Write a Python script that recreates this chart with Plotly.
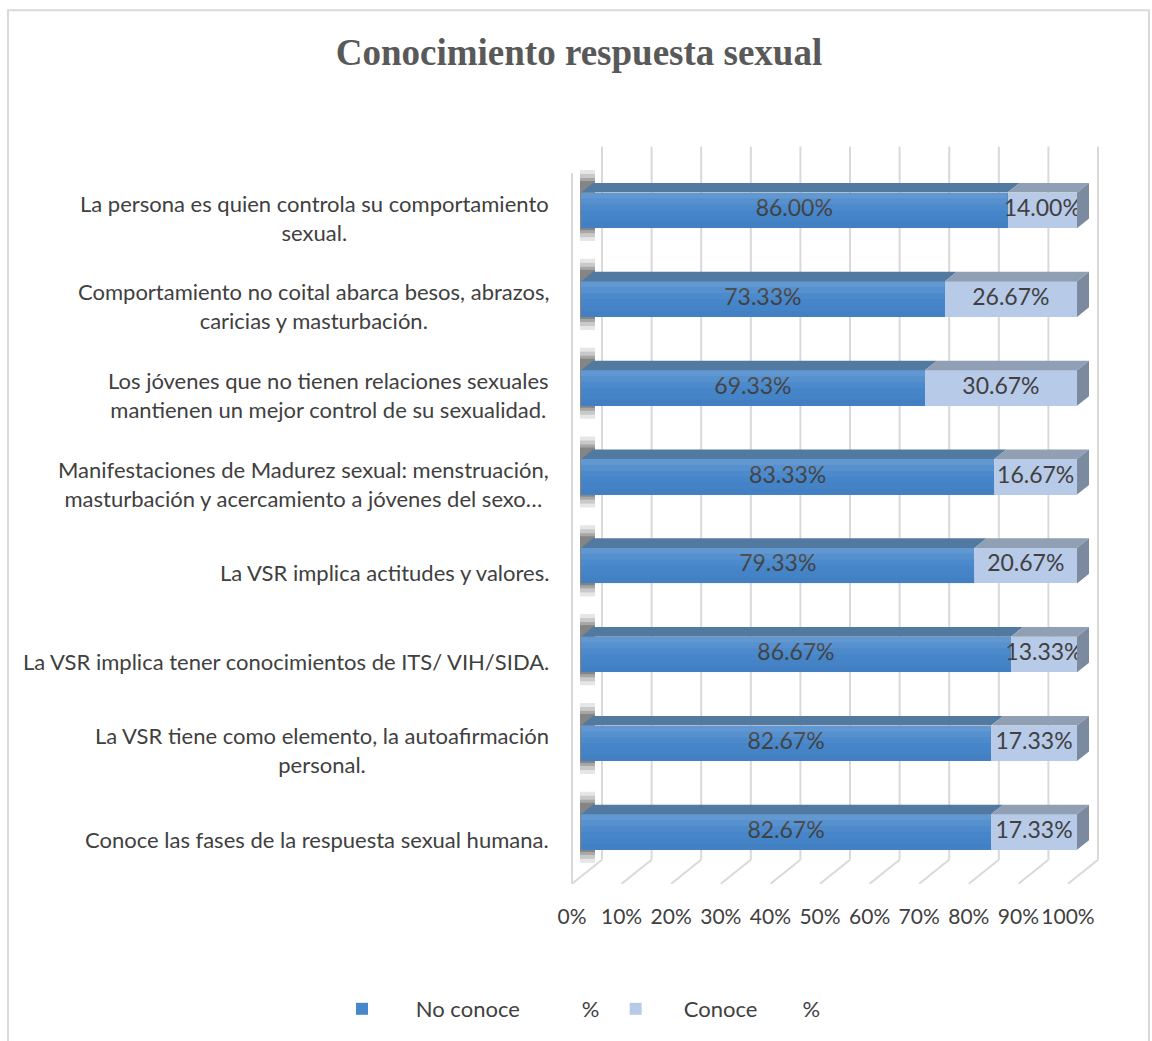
import plotly.graph_objects as go

# ---- data -------------------------------------------------------------
categories = [
    "La persona es quien controla su comportamiento<br>sexual.",
    "Comportamiento no coital abarca besos, abrazos,<br>caricias y masturbación.",
    "Los jóvenes que no tienen relaciones sexuales<br>mantienen un mejor control de su sexualidad.",
    "Manifestaciones de Madurez sexual: menstruación,<br>masturbación y acercamiento a jóvenes del sexo…",
    "La VSR implica actitudes y valores.",
    "La VSR implica tener conocimientos de ITS/ VIH/SIDA.",
    "La VSR tiene como elemento, la autoafirmación<br>personal.",
    "Conoce las fases de la respuesta sexual humana.",
]
no_conoce = [86.00, 73.33, 69.33, 83.33, 79.33, 86.67, 82.67, 82.67]
conoce = [14.00, 26.67, 30.67, 16.67, 20.67, 13.33, 17.33, 17.33]
tick_values = [0, 10, 20, 30, 40, 50, 60, 70, 80, 90, 100]
tick_labels = ["0%", "10%", "20%", "30%", "40%", "50%", "60%", "70%", "80%", "90%", "100%"]
series_names = ["No conoce", "Conoce"]

# ---- geometry of the pseudo-3D box ------------------------------------
W, H = 1152, 1041
PLOT_L, PLOT_R, PLOT_T, PLOT_B = 560, 1110, 130, 900
X_RANGE = [-4.234, 106.65]          # value axis (bar front plane)
Y_RANGE = [-0.7534, 7.905]          # category index axis
PX_X = (PLOT_R - PLOT_L) / (X_RANGE[1] - X_RANGE[0])
PX_Y = (PLOT_B - PLOT_T) / (Y_RANGE[1] - Y_RANGE[0])
DEPTH_PX = (30, -24)                # screen shift from front (d=0) to back (d=1)
BAR_D0, BAR_D1 = 0.3, 0.7           # depth span occupied by the bars
BAR_W = 0.40


def shift(d):
    """Offset in axis units of depth d relative to the bars' front plane."""
    return ((d - BAR_D0) * DEPTH_PX[0] / PX_X, -(d - BAR_D0) * DEPTH_PX[1] / PX_Y)


n = len(categories)
ypos = [n - 1 - i for i in range(n)]  # first category at the top

TEXT = "#404040"
FONT = "Lato"
GRID = "#d9d9d9"
BLUE_FRONT, BLUE_TOP = "#4787cb", "#52799f"
LIGHT_FRONT, LIGHT_TOP, LIGHT_SIDE = "#b7cae8", "#909fb3", "#7b8a9e"

fig = go.Figure()
fig.add_trace(go.Bar(
    y=ypos, x=no_conoce, orientation="h", name=series_names[0], width=BAR_W,
    marker=dict(color=BLUE_FRONT, line=dict(width=0)), textposition="none",
    hoverinfo="x+name",
))
fig.add_trace(go.Bar(
    y=ypos, x=conoce, base=no_conoce, orientation="h", name=series_names[1], width=BAR_W,
    marker=dict(color=LIGHT_FRONT, line=dict(width=0)), textposition="none",
    hoverinfo="x+name",
))
# value labels centred on each segment's front face
fig.add_trace(go.Scatter(
    x=[a / 2 for a in no_conoce], y=ypos, mode="text",
    text=[f"{v:.2f}%" for v in no_conoce], textposition="middle center",
    textfont=dict(family=FONT, size=23, color=TEXT),
    showlegend=False, hoverinfo="skip", cliponaxis=False,
))
fig.add_trace(go.Scatter(
    x=[a + b / 2 for a, b in zip(no_conoce, conoce)], y=ypos, mode="text",
    text=[f"{v:.2f}%" for v in conoce], textposition="middle center",
    textfont=dict(family=FONT, size=23, color=TEXT),
    showlegend=False, hoverinfo="skip", cliponaxis=False,
))

shapes = []
floor_y, top_y = -0.5, 7.5
fx, fy = shift(0.0)
bx, by = shift(1.0)

# back wall gridlines and floor diagonals
for v in tick_values:
    shapes.append(dict(type="line", xref="x", yref="y", layer="below",
                       x0=v + bx, y0=floor_y + by, x1=v + bx, y1=top_y + by + 0.03,
                       line=dict(color=GRID, width=2)))
    shapes.append(dict(type="line", xref="x", yref="y", layer="below",
                       x0=v + bx, y0=floor_y + by, x1=v + fx, y1=floor_y + fy,
                       line=dict(color=GRID, width=2)))
# left wall front edge
shapes.append(dict(type="line", xref="x", yref="y", layer="below",
                   x0=fx, y0=floor_y + fy, x1=fx, y1=top_y + fy,
                   line=dict(color=GRID, width=2)))


def quad(pts, color, layer="above", opacity=1.0):
    path = "M " + " L ".join(f"{x},{y}" for x, y in pts) + " Z"
    return dict(type="path", path=path, xref="x", yref="y", layer=layer,
                fillcolor=color, opacity=opacity, line=dict(width=0))


tdx, tdy = shift(BAR_D1)
px_u = 1 / PX_X
py_u = 1 / PX_Y
for y, a, b in zip(ypos, no_conoce, conoce):
    lo, hi = y - BAR_W / 2, y + BAR_W / 2
    total = a + b
    # soft shadow behind the left end of each bar, fading away from it
    for ext_px, op in ((13, 0.12), (9, 0.16), (5, 0.22), (2, 0.28)):
        shapes.append(dict(type="rect", xref="x", yref="y", layer="below",
                           x0=-1 * px_u, x1=14 * px_u,
                           y0=lo - ext_px * py_u, y1=hi + tdy + ext_px * py_u,
                           fillcolor="#2f2f2f", opacity=op, line=dict(width=0)))
    # top faces
    shapes.append(quad([(0, hi), (a, hi), (a + tdx, hi + tdy), (tdx, hi + tdy)], BLUE_TOP))
    shapes.append(quad([(a, hi), (total, hi), (total + tdx, hi + tdy), (a + tdx, hi + tdy)], LIGHT_TOP))
    # right end face
    shapes.append(quad([(total, lo), (total, hi), (total + tdx, hi + tdy), (total + tdx, lo + tdy)], LIGHT_SIDE))
    # vertical shading on the blue front face: lighter at the top, deeper at the bottom
    bands = 6
    for k in range(bands):
        t = k / (bands - 1)
        col = "white" if t < 0.5 else "#1f4f8a"
        op = 0.14 * (1 - 2 * t) if t < 0.5 else 0.12 * (2 * t - 1)
        if op <= 0.001:
            continue
        shapes.append(dict(type="rect", xref="x", yref="y", layer="above",
                           x0=0, x1=a, y0=hi - (k + 1) * BAR_W / bands, y1=hi - k * BAR_W / bands,
                           fillcolor=col, opacity=op, line=dict(width=0)))

# outer chart frame
shapes.append(dict(type="rect", xref="paper", yref="paper",
                   x0=(8 - PLOT_L) / (PLOT_R - PLOT_L), x1=(1149 - PLOT_L) / (PLOT_R - PLOT_L),
                   y0=(PLOT_B - 1060) / (PLOT_B - PLOT_T), y1=(PLOT_B - 10) / (PLOT_B - PLOT_T),
                   line=dict(color=GRID, width=2), fillcolor="rgba(0,0,0,0)", layer="below"))

# category labels, placed on the front edge of the floor
annotations = []
for y, label in zip(ypos, categories):
    annotations.append(dict(text=label, xref="paper", yref="y",
                            x=(551 - PLOT_L) / (PLOT_R - PLOT_L), y=y + fy,
                            xanchor="right", yanchor="middle", align="center",
                            showarrow=False, font=dict(family=FONT, size=22, color=TEXT)))

NB = "\u00a0"
legend_names = [NB * 6 + series_names[0] + NB * 11 + "%" + NB * 2,
                NB * 5 + series_names[1] + NB * 8 + "%"]
fig.data[0].name = legend_names[0]
fig.data[1].name = legend_names[1]

fig.update_layout(
    width=W, height=H,
    margin=dict(l=PLOT_L, r=W - PLOT_R, t=PLOT_T, b=H - PLOT_B, pad=0),
    paper_bgcolor="white", plot_bgcolor="rgba(0,0,0,0)",
    barmode="overlay", bargap=0,
    title=dict(text="<b>Conocimiento respuesta sexual</b>", x=579 / W, xanchor="center",
               y=1 - 52 / H, yanchor="middle",
               font=dict(family="Liberation Serif", size=37, color="#595959")),
    xaxis=dict(range=X_RANGE, tickvals=tick_values, ticktext=tick_labels,
               ticklabelshift=-9, ticklabelstandoff=3, ticks="",
               showgrid=False, zeroline=False, showline=False, fixedrange=True,
               tickfont=dict(family=FONT, size=21, color=TEXT)),
    yaxis=dict(range=Y_RANGE, showticklabels=False, showgrid=False, zeroline=False,
               showline=False, ticks="", fixedrange=True),
    legend=dict(orientation="h", x=(342 - PLOT_L) / (PLOT_R - PLOT_L), xanchor="left",
                y=(PLOT_B - 1009) / (PLOT_B - PLOT_T), yanchor="middle",
                font=dict(family=FONT, size=22, color=TEXT), itemwidth=30),
    shapes=shapes, annotations=annotations, showlegend=True,
)

fig.write_html("out.html")
